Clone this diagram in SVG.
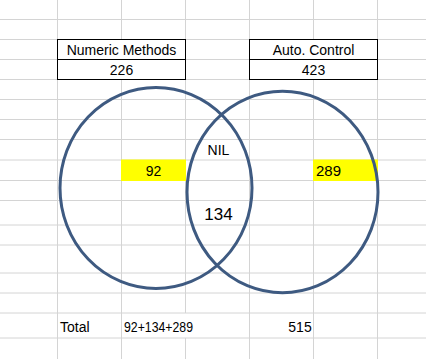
<svg xmlns="http://www.w3.org/2000/svg" width="426" height="359" viewBox="0 0 426 359">
<style>
.grid{stroke:#d4d4d4;stroke-width:1;fill:none}
.box{fill:#ffffff;stroke:#000000;stroke-width:1}
.hl{fill:#ffff00}
.t{font-family:"Liberation Sans",Arial,sans-serif;font-size:14px;fill:#000000}
.c{text-anchor:middle}
.circ{fill:none;stroke:#3e5a81;stroke-width:3}
</style>
<rect width="426" height="359" fill="#ffffff"/>
<g id="gridlines" class="grid">
<path d="M0 19.5H426M0 39.5H426M0 59.5H426M0 79.5H426M0 99.5H426M0 119.5H426M0 139.5H426M0 160H426M0 180.5H426M0 200.5H426M0 225H426M0 245H426M0 273H426M0 293H426M0 313H426M0 338H426"/>
<path d="M57.5 0V359M121.5 0V359M185.5 0V313M185.5 338V359M249.5 0V359M313.5 0V359M377.5 0V359"/>
</g>
<g id="highlight-92">
<rect class="hl" x="121" y="159.5" width="65" height="21.5"/>
<text class="t c" x="153.5" y="175.5">92</text>
</g>
<g id="highlight-289">
<rect class="hl" x="313" y="159.5" width="65" height="21.5"/>
<text class="t" x="316" y="175.5" textLength="25" lengthAdjust="spacingAndGlyphs">289</text>
</g>
<g id="numeric-methods">
<rect class="box" x="57.5" y="39.5" width="128" height="40"/>
<line x1="57.5" y1="59.5" x2="185.5" y2="59.5" stroke="#000000" stroke-width="1"/>
<text class="t c" x="121.5" y="55">Numeric Methods</text>
<text class="t c" x="121.5" y="75">226</text>
</g>
<g id="auto-control">
<rect class="box" x="249.5" y="39.5" width="128" height="40"/>
<line x1="249.5" y1="59.5" x2="377.5" y2="59.5" stroke="#000000" stroke-width="1"/>
<text class="t c" x="313.5" y="55">Auto. Control</text>
<text class="t c" x="313.5" y="75">423</text>
</g>
<g id="intersection">
<text class="t c" x="218.5" y="155">NIL</text>
<text class="t c" x="218.5" y="220" style="font-size:17px">134</text>
</g>
<g id="circles">
<ellipse id="circle-numeric" class="circ" cx="156" cy="188" rx="96" ry="100.5"/>
<ellipse id="circle-auto" class="circ" cx="282.5" cy="192" rx="95.5" ry="100.8"/>
</g>
<g id="totals">
<text class="t" x="60" y="332">Total</text>
<text class="t" x="124" y="332" textLength="69" lengthAdjust="spacingAndGlyphs">92+134+289</text>
<text class="t c" x="300" y="332">515</text>
</g>
</svg>
